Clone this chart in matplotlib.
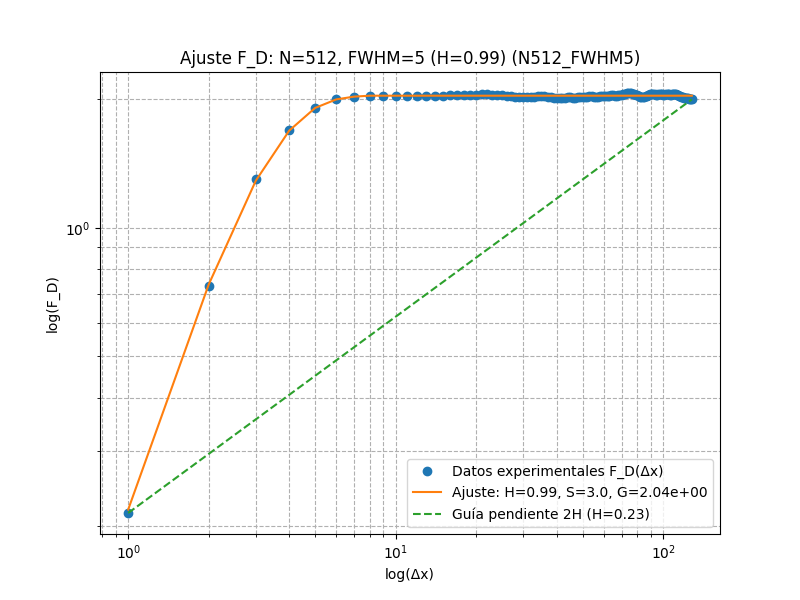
import matplotlib
matplotlib.use("Agg")
import matplotlib.pyplot as plt

# Datos experimentales F_D(dx), dx = 1..128
dx = list(range(1, 129))
fd = [
    0.215, 0.73, 1.30, 1.70, 1.91, 2.00, 2.03, 2.04, 2.04, 2.04,
    2.04, 2.04, 2.04, 2.04, 2.04, 2.045, 2.045, 2.05, 2.05, 2.05,
    2.055, 2.055, 2.05, 2.05, 2.045, 2.04, 2.035, 2.03, 2.03, 2.03,
    2.025, 2.025, 2.03, 2.035, 2.04, 2.035, 2.03, 2.025, 2.02, 2.02,
    2.02, 2.02, 2.02, 2.025, 2.025, 2.02, 2.02, 2.025, 2.03, 2.03,
    2.03, 2.03, 2.035, 2.035, 2.03, 2.03, 2.03, 2.035, 2.035, 2.04,
    2.04, 2.04, 2.04, 2.045, 2.045, 2.04, 2.04, 2.045, 2.05, 2.05,
    2.055, 2.06, 2.065, 2.07, 2.07, 2.065, 2.06, 2.055, 2.05, 2.045,
    2.035, 2.03, 2.025, 2.025, 2.03, 2.035, 2.04, 2.05, 2.055, 2.06,
    2.06, 2.06, 2.055, 2.05, 2.05, 2.055, 2.06, 2.06, 2.055, 2.05,
    2.05, 2.055, 2.06, 2.06, 2.055, 2.05, 2.05, 2.055, 2.06, 2.06,
    2.06, 2.055, 2.05, 2.045, 2.04, 2.035, 2.03, 2.03, 2.025, 2.02,
    2.02, 2.015, 2.01, 2.01, 2.005, 2.0, 2.0, 2.0,
]

# curva de ajuste
fit_x = [1, 2, 3, 4, 5, 6, 7, 8, 9, 10, 16, 32, 64, 128]
fit_y = [0.219, 0.737, 1.29, 1.69, 1.91, 2.00, 2.03, 2.04, 2.04, 2.04,
         2.04, 2.04, 2.04, 2.04]

# guia de pendiente 2H
guide_x = [1, 128]
guide_y = [0.215, 2.00]

fig, ax = plt.subplots(figsize=(8, 6), dpi=100)
ax.plot(dx, fd, "o", label="Datos experimentales F_D(Δx)")
ax.plot(fit_x, fit_y, "-", label="Ajuste: H=0.99, S=3.0, G=2.04e+00")
ax.plot(guide_x, guide_y, "--", label="Guía pendiente 2H (H=0.23)")
ax.set_xscale("log")
ax.set_yscale("log")
ax.set_xlabel("log(Δx)")
ax.set_ylabel("log(F_D)")
ax.set_title("Ajuste F_D: N=512, FWHM=5 (H=0.99) (N512_FWHM5)")
ax.grid(True, which="both", ls="--")
ax.legend(loc="lower right")

fig.savefig("out.png", dpi=100)
